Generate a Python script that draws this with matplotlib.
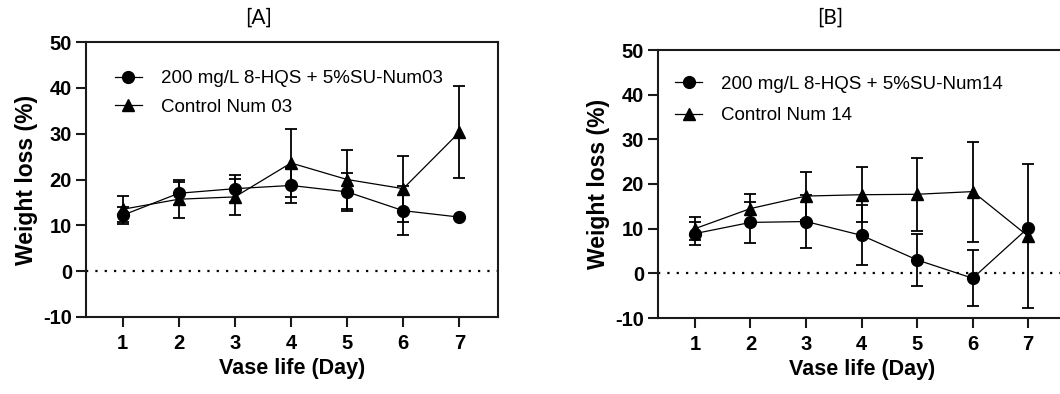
import matplotlib
matplotlib.use("Agg")
import matplotlib.pyplot as plt

# ---------------- data ----------------
days = [1, 2, 3, 4, 5, 6, 7]

# Panel A
a_trt_label = "200 mg/L 8-HQS + 5%SU-Num03"
a_ctl_label = "Control Num 03"
a_trt = [12.2, 17.0, 18.0, 18.7, 17.3, 13.2, 11.8]
a_trt_err = [1.8, 2.5, 3.0, 3.8, 4.2, 5.3, 0.0]
a_ctl = [13.5, 15.7, 16.2, 23.6, 20.0, 18.0, 30.3]
a_ctl_err = [2.8, 4.1, 4.0, 7.5, 6.5, 7.2, 10.0]

# Panel B
b_trt_label = "200 mg/L 8-HQS + 5%SU-Num14"
b_ctl_label = "Control Num 14"
b_trt = [8.9, 11.4, 11.6, 8.5, 3.0, -1.1, 10.2]
b_trt_err = [2.6, 4.5, 6.0, 6.7, 5.8, 6.3, 0.0]
b_ctl = [10.0, 14.5, 17.3, 17.6, 17.7, 18.3, 8.3]
b_ctl_err = [2.5, 3.2, 5.4, 6.2, 8.2, 11.2, 16.1]

yticks = [-10, 0, 10, 20, 30, 40, 50]
titles = ["[A]", "[B]"]
xlabel = "Vase life (Day)"
ylabel = "Weight loss (%)"

# ---------------- style ----------------
plt.rcParams['font.family'] = ['Liberation Sans', 'DejaVu Sans']
plt.rcParams['axes.unicode_minus'] = False
W, H = 1060, 394
fig = plt.figure(figsize=(W / 100, H / 100), dpi=100)

def px_axes(l, t, r, b):
    return fig.add_axes([l / W, 1 - b / H, (r - l) / W, (b - t) / H])

spine_c = "#1a1a1a"

def draw(ax, trt, trt_err, ctl, ctl_err, lab_t, lab_c, xlim, leg_anchor, lsp):
    ax.axhline(0, color="black", lw=1.6, linestyle=(0, (1, 3.2)), zorder=1)
    ax.errorbar(days, trt, yerr=trt_err, color="black", lw=0.9, marker="o",
                markersize=8.5, elinewidth=1.3, capsize=4, capthick=1.3,
                label=lab_t, zorder=3)
    ax.errorbar(days, ctl, yerr=ctl_err, color="black", lw=0.9, marker="^",
                markersize=8.5, elinewidth=1.3, capsize=4, capthick=1.3,
                label=lab_c, zorder=3)
    ax.set_xlim(*xlim)
    ax.set_ylim(-10, 50)
    ax.set_yticks(yticks)
    ax.set_xticks(days)
    for s in ax.spines.values():
        s.set_color(spine_c)
        s.set_linewidth(1.5)
    ax.tick_params(axis="both", direction="out", length=7, width=1.5,
                   color=spine_c, labelsize=14.5, pad=3)
    ax.tick_params(axis="x", pad=5)
    for lbl in ax.get_xticklabels() + ax.get_yticklabels():
        lbl.set_fontweight("bold")
    ax.set_xlabel(xlabel, fontsize=15.5, fontweight="bold", labelpad=4)
    ax.set_ylabel(ylabel, fontsize=16.5, fontweight="bold", labelpad=4)
    handles, labels = ax.get_legend_handles_labels()
    handles = [h[0] for h in handles]
    ax.legend(handles, labels, loc="upper left", bbox_to_anchor=leg_anchor,
              frameon=False, fontsize=13.5, handlelength=1.45,
              handletextpad=1.0, labelspacing=lsp, borderpad=0,
              borderaxespad=0)

axA = px_axes(86, 42, 498, 317)
draw(axA, a_trt, a_trt_err, a_ctl, a_ctl_err, a_trt_label, a_ctl_label,
     (0.346, 7.69), (0.07, 0.898), 0.6)

axB = px_axes(658, 50, 1066, 318)
draw(axB, b_trt, b_trt_err, b_ctl, b_ctl_err, b_trt_label, b_ctl_label,
     (0.335, 7.68), (0.042, 0.905), 0.77)

fig.text(259 / W, 1 - 18 / H, titles[0], ha="center", va="center",
         fontsize=15, family=["Lato", "DejaVu Sans"])
fig.text(830 / W, 1 - 18 / H, titles[1], ha="center", va="center",
         fontsize=15, family=["Lato", "DejaVu Sans"])

fig.savefig("out.png", dpi=100)
